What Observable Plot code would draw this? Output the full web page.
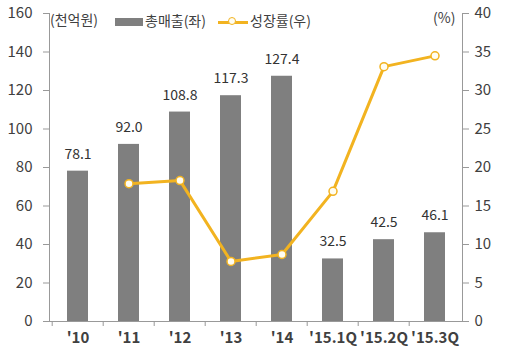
<!DOCTYPE html>
<html><head><meta charset="utf-8">
<script src="https://cdn.jsdelivr.net/npm/d3@7"></script>
<script src="https://cdn.jsdelivr.net/npm/@observablehq/plot@0.6"></script>
<style>
body{margin:0;background:#fff;}
#wrap{position:relative;width:512px;height:355px;font-family:"Noto Sans CJK KR","Noto Sans",sans-serif;color:#404040;}
.lg{position:absolute;font-size:14px;line-height:14px;white-space:nowrap;}
</style></head>
<body><div id="wrap"></div>
<script>
const categories = ["'10","'11","'12","'13","'14","'15.1Q","'15.2Q","'15.3Q"];
const sales = [78.1, 92.0, 108.8, 117.3, 127.4, 32.5, 42.5, 46.1];
const growth = [null, 17.9, 18.3, 7.8, 8.7, 16.9, 33.1, 34.5];
const leftTicks = [0,20,40,60,80,100,120,140,160];
const rightTicks = [0,5,10,15,20,25,30,35,40];

const gold = "#F2B320";
const barData = categories.map((c,i)=>({c, v: sales[i]}));
const lineData = categories.map((c,i)=>({c, g: growth[i]})).filter(d=>d.g!=null);
const step = (462-49)/categories.length;

const chart = Plot.plot({
  width: 512, height: 355,
  marginLeft: 49, marginRight: 50, marginTop: 13, marginBottom: 34,
  style: {fontFamily: '"Noto Sans CJK KR","Noto Sans",sans-serif', color: "#404040", background: "#fff"},
  x: {type: "band", domain: categories, paddingInner: 0.59, paddingOuter: 0.295, axis: null},
  y: {domain: [0,160], axis: null},
  marks: [
    Plot.barY(barData, {x: "c", y: "v", fill: "#7F7F7F"}),
    Plot.text(barData, {x: "c", y: "v", text: d=>d.v.toFixed(1), dy: -17, fontSize: 14, fill: "#333"}),
    Plot.line(lineData, {x: "c", y: d=>d.g*4, stroke: gold, strokeWidth: 3}),
    Plot.dot(lineData, {x: "c", y: d=>d.g*4, r: 4, fill: "#FFFDF2", stroke: gold, strokeWidth: 1.5}),
    Plot.axisY({anchor: "left", ticks: leftTicks, tickSize: 6, tickPadding: 11, fontSize: 15, stroke: "#999", label: null}),
    Plot.axisY({anchor: "right", ticks: rightTicks.map(d=>d*4), tickFormat: d=>String(d/4), tickSize: 6, tickPadding: 6, fontSize: 15, stroke: "#999", label: null}),
    Plot.frame({anchor: "left", stroke: "#999"}),
    Plot.frame({anchor: "right", stroke: "#999"}),
    Plot.frame({anchor: "bottom", stroke: "#999"}),
    Plot.axisX({anchor: "bottom", tickSize: 0, tickPadding: 11, fontSize: 15, fontWeight: "bold", label: null}),
    Plot.axisX({anchor: "bottom", tickSize: 5, tickFormat: null, dx: -step/2, stroke: "#999", label: null})
  ]
});
const wrap = document.getElementById("wrap");
wrap.appendChild(chart);
const add = (html, x, y) => { const s = document.createElement("div"); s.className = "lg"; s.style.left = x+"px"; s.style.top = y+"px"; s.innerHTML = html; wrap.appendChild(s); };
add("(천억원)", 50, 12);
add('<span style="display:inline-block;width:28px;height:8px;background:#7F7F7F;vertical-align:middle;margin-right:2px"></span>총매출(좌)', 115, 13);
add('<span style="display:inline-block;position:relative;width:30px;height:3px;background:'+gold+';vertical-align:middle;margin-right:2px"><span style="position:absolute;left:10px;top:-4px;width:8px;height:8px;border-radius:50%;background:#FFFDF2;border:1.5px solid '+gold+';box-sizing:border-box"></span></span>성장률(우)', 218, 13);
add("(%)", 433, 10);
</script></body></html>
